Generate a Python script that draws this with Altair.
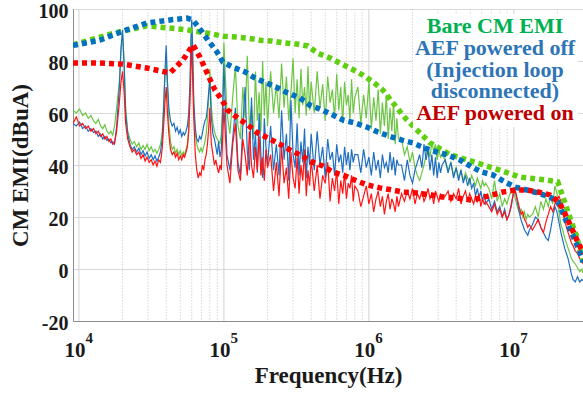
import altair as alt
import pandas as pd

SERIF = "Liberation Serif"

# ---------------- frequency grid of the measured spectra (kHz) ----------------
freq_khz = [
    9.1, 9.6, 10.1, 10.6, 11.1, 11.6, 12.1, 12.6, 13.1, 13.6, 14.1, 14.6, 15.1, 15.6, 16.1, 16.6, 17.1, 17.6, 18.2,
    19, 19.5, 20, 20.5, 21,
    21.7, 22.5, 23.3, 24.1, 25, 25.9, 26.8, 27.7, 28.6, 29.5, 30.5, 31.5, 32.5, 33.5, 34.5, 35.5, 36.5, 37.5, 38.3,
    39.2, 40, 40.8,
    41.7, 42.8, 44, 45.2, 46.4, 47.6, 48.8, 50, 51.2, 52.4, 53.6, 54.8, 56, 57.2, 58.4,
    59.2, 60, 60.8,
    62, 63.5, 65, 66.5, 68, 69.5, 71, 72.5, 74, 75.5, 77, 78.5,
    79.3, 80, 80.8,
    82, 84, 86, 88, 90, 92, 94, 96, 98,
    100, 105, 110, 115, 120, 125, 130, 135, 140, 145, 150, 155, 160, 165, 170, 175, 180, 185, 190, 195, 200,
    210, 220, 230, 240, 250, 260, 270, 280, 290, 300, 310, 320, 330, 340, 350, 360, 370, 380, 390, 400,
    420, 440, 460, 480, 500, 520, 540, 560, 580, 600, 620, 640, 660, 680, 700, 720, 740, 760, 780, 800,
    840, 880, 920, 960, 1000, 1040, 1080, 1120, 1160, 1200, 1240, 1280, 1320, 1360, 1400, 1440, 1480, 1520, 1560, 1600,
    1680, 1760, 1840, 1920, 2000, 2080, 2160, 2240, 2320, 2400, 2480, 2560, 2640, 2720, 2800, 2880, 2960, 3040, 3120, 3200,
    3360, 3520, 3680, 3840, 4000, 4160, 4320, 4480, 4640, 4800, 4960, 5120, 5280, 5440, 5600, 5760, 5920, 6080, 6240, 6400,
    6720, 7040, 7360, 7680, 8000, 8320, 8640, 8960, 9280, 9600, 9920, 10240, 10560, 10880, 11200, 11520, 11840, 12160, 12480, 12800,
    13440, 14080, 14720, 15360, 16000, 16640, 17280, 17920, 18560, 19200, 19840, 20480, 21120, 21760, 22400, 23040, 23680, 24320, 24960, 25600,
    26500, 27500, 28500, 29500, 30000,
]

# Bare CM EMI (green trace), dBuA
green_db = [
    61, 60, 61.5, 59, 60, 58, 59, 57, 56, 57.5, 55, 54, 55.5, 53, 52, 53, 51.5, 55, 62,
    72, 84, 90, 80, 62,
    53, 50, 48, 49, 47, 48.5, 46, 47.5, 46, 48, 45.5, 47, 45, 46, 44.5, 46, 48, 52, 62,
    74, 80, 70,
    56, 49, 46, 47, 44.5, 46, 44, 45.5, 43.5, 45, 44, 46, 48, 54, 68,
    84, 92, 82,
    62, 52, 48, 46, 45, 46.5, 45, 47, 49, 52, 58, 66,
    72, 77, 70,
    62, 56, 53, 51, 50, 49, 48.5, 52, 64,
    87, 60, 52, 66, 78, 55, 50, 70, 58, 82, 54, 63, 50, 76, 57, 68, 53, 80, 59, 72, 55,
    76, 60, 71, 58, 79, 62, 74, 57, 68, 81, 60, 73, 58, 77, 63, 70, 59, 78, 61, 72,
    60, 76, 62, 71, 57, 74, 64, 69, 58, 75, 61, 70, 56, 72, 63, 67, 57, 73, 60, 66,
    70, 56, 67, 58, 72, 54, 66, 57, 69, 52, 64, 55, 67, 50, 62, 53, 64, 48, 58, 50,
    50, 44, 47, 41, 45, 39, 36, 34, 37, 40, 44, 47, 43, 49, 45, 48, 42, 46, 43, 44,
    42, 38, 41, 36, 39, 35, 38, 34, 37, 35, 33, 36, 34, 32, 35, 33, 31, 34, 32, 33,
    31, 27, 34, 26, 29, 24, 27, 25, 28, 30, 31, 27, 24, 22, 23, 20, 22, 19, 21, 20,
    21, 24, 20, 26, 23, 27, 24, 28, 25, 32, 29, 22, 17, 15, 12, 10, 8, 6, 4, 3,
    2, 0.5, -1, 0, -1.5,
]

# AEF powered off (blue trace), dBuA
blue_db = [
    56, 55, 56.5, 54, 55, 53, 54, 52.5, 53, 51, 52, 50, 51, 49.5, 50, 48.5, 49, 48, 55,
    70, 85, 92, 78, 60,
    52, 48, 46, 47, 45, 46.5, 44, 45.5, 43.5, 45, 42.5, 44, 42, 43.5, 41.5, 43, 45, 50, 60,
    76, 86, 72,
    62, 57, 55, 56, 53, 54.5, 52, 53.5, 51, 52.5, 51.5, 53, 55, 60, 72,
    88, 96, 86,
    64, 54, 50, 49, 51, 50, 52, 55, 57, 58, 62, 68,
    70, 73, 66,
    58, 52, 50, 47, 44, 49, 43, 46, 60,
    79, 44, 38, 50, 62, 41, 36, 55, 70, 45, 38, 66, 42, 52, 37, 60, 44, 35, 58, 47, 40,
    55, 38, 48, 36, 61, 42, 52, 34, 65, 44, 39, 56, 36, 49, 41, 54, 35, 47, 40, 52,
    38, 53, 40, 47, 35, 50, 42, 45, 36, 48, 41, 44, 37, 47, 40, 45, 38, 46, 41, 44,
    44, 37, 46, 39, 43, 36, 45, 38, 42, 35, 44, 39, 41, 37, 45, 38, 43, 36, 42, 40,
    40, 34, 42, 36, 33, 38, 41, 44, 39, 48, 42, 46, 38, 44, 36, 43, 35, 41, 37, 40,
    42, 37, 41, 35, 39, 34, 38, 33, 36, 32, 35, 31, 33, 28, 31, 27, 30, 26, 29, 25,
    27, 23, 26, 22, 24, 20, 23, 19, 21, 24, 29, 30, 26, 22, 19, 17, 15, 14, 13, 15,
    17, 20, 19, 16, 14, 12, 11, 15, 20, 24, 22, 18, 14, 11, 8, 6, 4, 1, -2, -4,
    -5, -3, -5, -4, -4.5,
]

# AEF powered on (red trace), dBuA
red_db = [
    56, 58.5, 55, 56, 54, 55, 53, 54, 52, 53, 51, 52, 50, 51, 49, 50, 48, 48.5, 53,
    64, 72, 76, 68, 56,
    50, 47, 45, 46, 44, 45, 42.5, 44, 41.5, 43, 41, 42, 40, 41.5, 39.5, 42, 41, 46, 54,
    64, 70, 60,
    52, 46, 44, 45, 43, 44.5, 42, 43.5, 42, 44, 43, 45, 47, 53, 66,
    78, 86, 74,
    58, 44, 38, 35, 37, 36, 40, 38, 42, 44, 48, 54,
    58, 62, 55,
    48, 44, 40, 42, 39, 37, 40, 38, 50,
    62, 40, 33, 48, 56, 38, 34, 50, 44, 36, 53, 40, 35, 47, 38, 51, 36, 43, 34, 46, 39,
    44, 30, 41, 28, 47, 33, 39, 27, 45, 35, 31, 43, 29, 40, 34, 46, 28, 38, 32, 42,
    30, 40, 27, 36, 33, 41, 26, 35, 30, 38, 25, 34, 29, 37, 27, 33, 31, 36, 26, 32,
    30, 24, 28, 32, 25, 29, 22, 27, 30, 24, 28, 21, 26, 29, 23, 27, 25, 22, 28, 24,
    29, 26, 30, 27, 31, 25, 29, 27, 30, 26, 28, 31, 27, 29, 25, 30, 28, 26, 29, 27,
    28, 30, 26, 29, 27, 31, 25, 28, 30, 26, 29, 27, 25, 28, 26, 29, 24, 27, 25, 26,
    24, 22, 25, 21, 23, 20, 22, 19, 21, 25, 29, 30, 27, 24, 21, 22, 19, 18, 16, 17,
    15, 17, 19, 16, 14, 18, 21, 24, 22, 25, 27, 28, 26, 22, 19, 16, 14, 12, 10, 9,
    7, 6, 4, 3, 2,
]

# ---------------- dotted envelopes (kHz, dBuA) ----------------
green_env_khz = [9.1, 17.7, 29.4, 55.6, 82.6, 100, 123, 146, 177, 213, 255, 318, 379, 443, 537, 630, 762, 908,
                 1070, 1250, 1560, 1830, 2640, 3620, 5560, 8000, 11000, 16900, 20100, 21800, 24300, 27200, 29400, 30000]
green_env_db = [86.2, 90.8, 93.5, 92, 90.4, 89.5, 89.2, 88.8, 88, 87.7, 87, 86.5, 85.8, 83, 81.2, 79.2, 76.9, 74.6,
                71.9, 68.8, 62, 57.3, 48.5, 44, 40.8, 38, 35.4, 34.2, 33.5, 27.7, 20, 12.3, 4.6, 3]

blue_env_khz = [9.1, 13.9, 20.1, 29.4, 42.5, 55.6, 61, 70.5, 77.6, 89.5, 98.5, 115, 140, 164, 198, 236, 276, 334,
                392, 474, 565, 662, 800, 968, 1150, 1400, 1690, 2010, 2430, 2940, 3510, 4250, 5130, 6010, 7160,
                8670, 10200, 12300, 14700, 17700, 20100, 21800, 23600, 25500, 27600, 29400, 30000]
blue_env_db = [86, 88, 91.5, 94.6, 95.8, 96.5, 95.8, 91.3, 88, 83.5, 79.6, 77.7, 75.8, 73.4, 71.5, 69.6, 67.7, 65.8,
               63, 61.2, 59.2, 57.3, 56.2, 54.6, 52.7, 51, 49.6, 48.5, 46.5, 45, 43.8, 41.9, 39.2, 37.3, 36.2,
               33.5, 31.5, 30.4, 29.2, 27.7, 25.8, 21.5, 16.9, 13, 8.5, 4.6, 2.5]

red_env_khz = [9.1, 13.9, 20.1, 29.4, 42.5, 52.2, 61.2, 68.3, 74, 80, 86.8, 96.9, 106, 125, 146, 171, 201, 243,
               285, 345, 405, 481, 565, 684, 827, 983, 1190, 1440, 1710, 2140, 2630, 3240, 4030, 5130, 6610,
               8380, 10200, 12300, 14700, 17700, 20700, 23100, 25000, 27200, 29400, 30000]
red_env_db = [79.2, 79.2, 78.8, 77.3, 75.4, 80.4, 86.2, 81.5, 77.3, 73, 68.8, 65, 61.2, 58, 55.4, 52.3, 50.4, 48,
              45.8, 43.5, 41.2, 39.6, 37.3, 35.8, 33.8, 32.3, 31.2, 30.4, 29.6, 29.2, 28.5, 27.7, 27.3, 26.5, 28,
              29.6, 30.4, 30.4, 29.6, 28.5, 25.4, 20, 15.8, 11.2, 7.3, 6]

# ---------------- axes / annotation content ----------------
major_x = [1e4, 1e5, 1e6, 1e7]
major_exp = ["4", "5", "6", "7"]
minor_x = [2e4, 3e4, 4e4, 5e4, 6e4, 7e4, 8e4, 9e4,
           2e5, 3e5, 4e5, 5e5, 6e5, 7e5, 8e5, 9e5,
           2e6, 3e6, 4e6, 5e6, 6e6, 7e6, 8e6, 9e6,
           2e7]
y_ticks = [-20, 0, 20, 40, 60, 80, 100]
legend_lines = ["Bare CM EMI", "AEF powered off", "(Injection loop", "disconnected)", "AEF powered on"]
legend_colors = ["#00b050", "#2e75b6", "#2e75b6", "#2e75b6", "#c00000"]

for nm, arr in [("green", green_db), ("blue", blue_db), ("red", red_db)]:
    assert len(arr) == len(freq_khz), (nm, len(arr), len(freq_khz))
assert len(green_env_khz) == len(green_env_db)
assert len(blue_env_khz) == len(blue_env_db)
assert len(red_env_khz) == len(red_env_db)


def frame(khz, vals):
    return pd.DataFrame({"f": [k * 1000.0 for k in khz], "v": vals})


W, H = 510, 312
xs = alt.Scale(type="log", domain=[9100, 3.0e7], nice=False)
ys = alt.Scale(domain=[-20, 100], nice=False, zero=False)

x_axis = alt.Axis(
    values=major_x, labelExpr="'10'", labelFont=SERIF, labelFontWeight="bold", labelFontSize=21,
    labelColor="#1a1a1a", labelAlign="center", labelOffset=-4.5, labelBaseline="top", labelPadding=18,
    labelFlush=False, labelOverlap=False, ticks=False, grid=False, domain=True, domainColor="#8c8c8c",
    title="Frequency(Hz)", titleFont=SERIF, titleFontWeight="bold", titleFontSize=23, titleColor="#1a1a1a",
    titleBaseline="alphabetic", titleAlign="center", titleX=W / 2, titleY=61,
)
y_axis = alt.Axis(
    values=y_ticks, labelExpr="datum.value < 0 ? '-' + abs(datum.value) : '' + datum.value",
    labelFont=SERIF, labelFontWeight="bold", labelFontSize=20, labelColor="#1a1a1a",
    labelAlign="right", labelBaseline="middle", labelPadding=5, labelOffset=2, labelFlush=False,
    ticks=False, grid=True, gridColor="#d9d9d9", gridWidth=1, domain=True, domainColor="#8c8c8c",
    title="CM EMI(dBuA)", titleFont=SERIF, titleFontWeight="bold", titleFontSize=23, titleColor="#1a1a1a",
    titleAngle=270, titleBaseline="alphabetic", titleAlign="center", titleX=-46, titleY=H / 2,
)

X = alt.X("f:Q", scale=xs, axis=x_axis)
Y = alt.Y("v:Q", scale=ys, axis=y_axis)

minor_rules = alt.Chart(pd.DataFrame({"f": minor_x})).mark_rule(
    color="#d6d6d6", strokeWidth=1, strokeDash=[1.5, 1.5]
).encode(x=X)
major_rules = alt.Chart(pd.DataFrame({"f": major_x})).mark_rule(
    color="#d2d2d2", strokeWidth=1
).encode(x=X)


def trace(khz, vals, color, width=1.2):
    return alt.Chart(frame(khz, vals)).mark_line(
        color=color, strokeWidth=width, clip=True, interpolate="linear"
    ).encode(x=X, y=Y, order="f:Q")


def envelope(khz, vals, color):
    return alt.Chart(frame(khz, vals)).mark_line(
        color=color, strokeWidth=5.5, strokeDash=[5, 4], strokeCap="butt", clip=True
    ).encode(x=X, y=Y, order="f:Q")


green_tr = trace(freq_khz, green_db, "#6cc644")
blue_tr = trace(freq_khz, blue_db, "#1f6fc0")
red_tr = trace(freq_khz, red_db, "#ff1414")

green_env = envelope(green_env_khz, green_env_db, "#5fcf0f")
blue_env = envelope(blue_env_khz, blue_env_db, "#0070c0")
red_env = envelope(red_env_khz, red_env_db, "#ff0000")

box = alt.Chart(pd.DataFrame({"a": [0]})).mark_rect(color="white").encode(
    x=alt.value(340), x2=alt.value(505), y=alt.value(5), y2=alt.value(118)
)

legend_layers = []
for i, (txt, col) in enumerate(zip(legend_lines, legend_colors)):
    legend_layers.append(
        alt.Chart(pd.DataFrame({"t": [txt]})).mark_text(
            font=SERIF, fontWeight="bold", fontSize=22, color=col, align="center", baseline="alphabetic"
        ).encode(text="t:N", x=alt.value(422), y=alt.value(24 + 21.75 * i))
    )

exps = alt.Chart(pd.DataFrame({"f": major_x, "e": major_exp})).mark_text(
    font=SERIF, fontWeight="bold", fontSize=15, color="#1a1a1a", align="left", baseline="alphabetic", dx=6.5
).encode(x=X, y=alt.value(334), text="e:N")

chart = alt.layer(
    minor_rules, major_rules,
    green_tr, blue_tr, red_tr,
    green_env, blue_env, red_env,
    box, *legend_layers, exps,
).properties(
    width=W, height=H,
    padding={"left": 73, "top": 9, "right": 0, "bottom": 76},
    autosize=alt.AutoSizeParams(type="none"),
    background="white",
).configure_view(stroke="#8c8c8c", strokeWidth=1)

chart.save("out.html", embed_options={"renderer": "svg", "actions": False})
